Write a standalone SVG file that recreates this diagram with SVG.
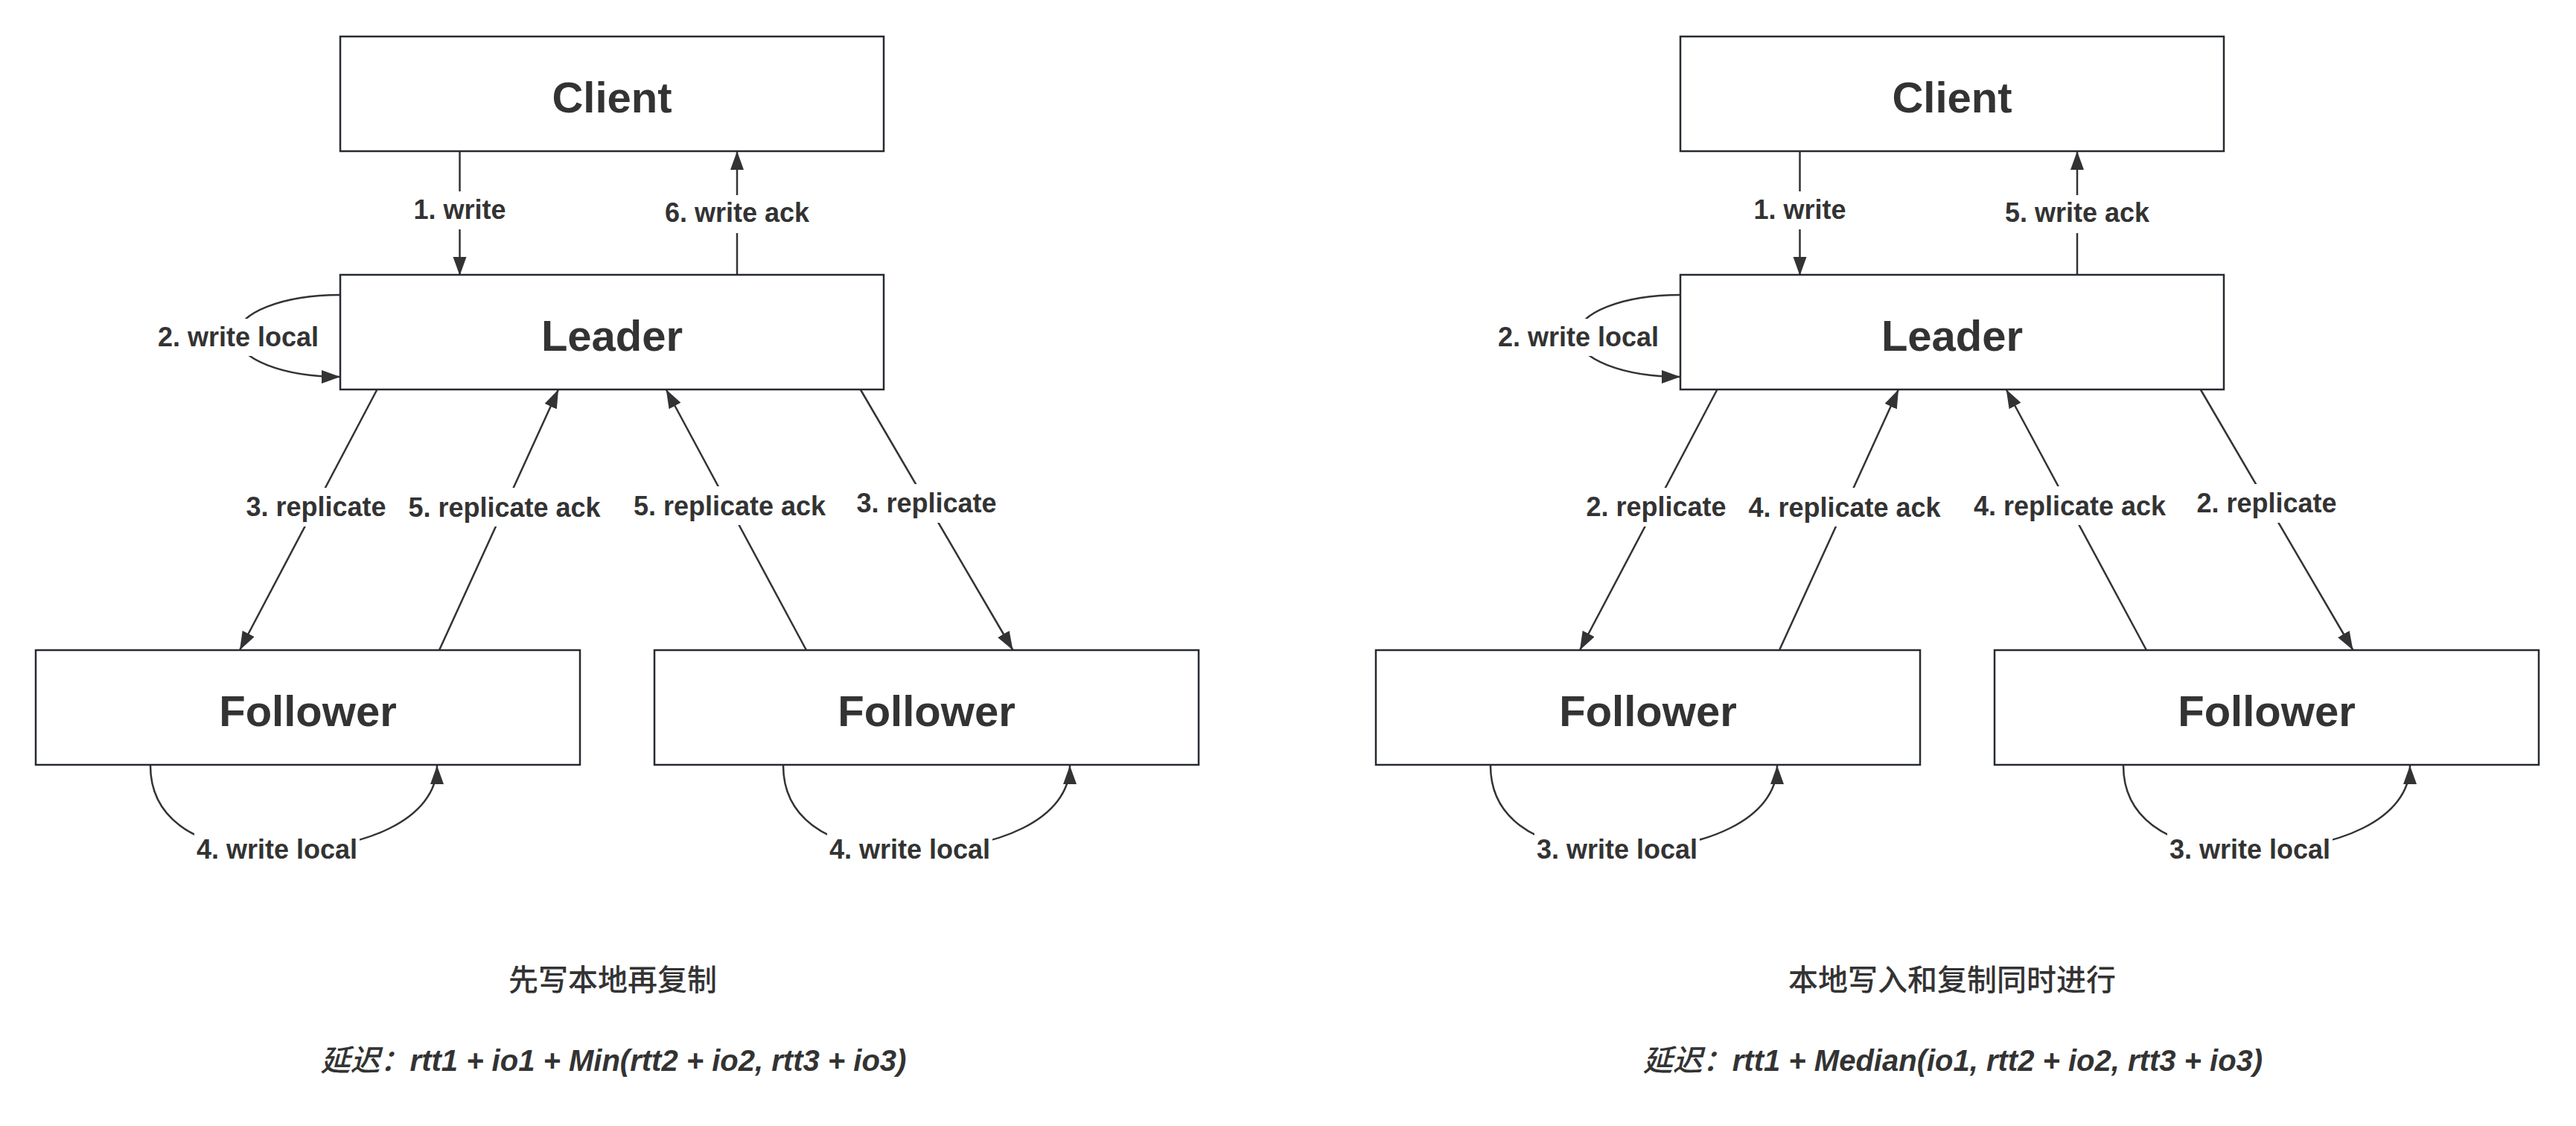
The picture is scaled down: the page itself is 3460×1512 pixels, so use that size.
<svg xmlns="http://www.w3.org/2000/svg" width="3460" height="1512" viewBox="0 0 3460 1512">
<defs>
<style>
.box{fill:#ffffff;stroke:#262b31;stroke-width:2.5}
.nt{font-family:"Liberation Sans",Arial,sans-serif;font-weight:bold;font-size:58px;fill:#333333;text-anchor:middle}
.ln{fill:none;stroke:#333333;stroke-width:2.5}
.lb{font-family:"Liberation Sans",Arial,sans-serif;font-weight:bold;font-size:36px;fill:#333333;text-anchor:middle}
.bg{fill:#ffffff}
.title{font-family:"Noto Sans CJK SC",sans-serif;font-size:40px;font-weight:500;fill:#333333;text-anchor:middle}
.formula{font-family:"Liberation Sans","Noto Sans CJK SC",sans-serif;font-size:40px;font-weight:bold;font-style:italic;fill:#333333;text-anchor:middle}
.cjk{font-family:"Noto Sans CJK SC",sans-serif;font-weight:500}
</style>
<marker id="ah" markerUnits="userSpaceOnUse" markerWidth="26" markerHeight="20" refX="25" refY="9" orient="auto">
<path d="M0,0 L25,9 L0,18 z" fill="#333333"/>
</marker>
</defs>
<rect width="3460" height="1512" fill="#ffffff"/>

<g id="connectors">
<g id="e-l-write"><path class="ln" d="M617.5,203 L617.5,370" marker-end="url(#ah)"/><rect class="bg" x="552" y="257" width="131" height="51"/><text class="lb" x="617.5" y="294">1. write</text></g>
<g id="e-l-writeack"><path class="ln" d="M990,370 L990,203" marker-end="url(#ah)"/><rect class="bg" x="890" y="262" width="200" height="51"/><text class="lb" x="990" y="298">6. write ack</text></g>
<g id="e-l-leaderlocal"><path class="ln" d="M457,396 C380,396 318,420 318,451 C318,482 380,506 457,506" marker-end="url(#ah)"/><rect class="bg" x="209" y="428" width="222" height="50"/><text class="lb" x="320" y="465">2. write local</text></g>
<g id="e-l-rep1"><path class="ln" d="M506.5,523 L322,873" marker-end="url(#ah)"/><rect class="bg" x="328" y="655" width="194" height="52"/><text class="lb" x="424.5" y="693">3. replicate</text></g>
<g id="e-l-ack1"><path class="ln" d="M590,873 L750,523" marker-end="url(#ah)"/><rect class="bg" x="545" y="655" width="265" height="52"/><text class="lb" x="677.5" y="694">5. replicate ack</text></g>
<g id="e-l-ack2"><path class="ln" d="M1083,873 L894.7,523" marker-end="url(#ah)"/><rect class="bg" x="847" y="653" width="265" height="52"/><text class="lb" x="980" y="692">5. replicate ack</text></g>
<g id="e-l-rep2"><path class="ln" d="M1155.7,523 L1360.5,873" marker-end="url(#ah)"/><rect class="bg" x="1147" y="650" width="195" height="52"/><text class="lb" x="1244.5" y="688">3. replicate</text></g>
<g id="e-l-f1local"><path class="ln" d="M202,1028 C202,1090 250,1142 372,1142 C490,1142 587,1100 587,1028" marker-end="url(#ah)"/><rect class="bg" x="261" y="1117" width="222" height="50"/><text class="lb" x="372" y="1153">4. write local</text></g>
<g id="e-l-f2local"><path class="ln" d="M1052,1028 C1052,1090 1100,1142 1222,1142 C1340,1142 1437,1100 1437,1028" marker-end="url(#ah)"/><rect class="bg" x="1111" y="1117" width="222" height="50"/><text class="lb" x="1222" y="1153">4. write local</text></g>

<g id="e-r-write"><path class="ln" d="M2417.5,203 L2417.5,370" marker-end="url(#ah)"/><rect class="bg" x="2352" y="257" width="131" height="51"/><text class="lb" x="2417.5" y="294">1. write</text></g>
<g id="e-r-writeack"><path class="ln" d="M2790,370 L2790,203" marker-end="url(#ah)"/><rect class="bg" x="2690" y="262" width="200" height="51"/><text class="lb" x="2790" y="298">5. write ack</text></g>
<g id="e-r-leaderlocal"><path class="ln" d="M2257,396 C2180,396 2118,420 2118,451 C2118,482 2180,506 2257,506" marker-end="url(#ah)"/><rect class="bg" x="2009" y="428" width="222" height="50"/><text class="lb" x="2120" y="465">2. write local</text></g>
<g id="e-r-rep1"><path class="ln" d="M2306.5,523 L2122,873" marker-end="url(#ah)"/><rect class="bg" x="2128" y="655" width="194" height="52"/><text class="lb" x="2224.5" y="693">2. replicate</text></g>
<g id="e-r-ack1"><path class="ln" d="M2390,873 L2550,523" marker-end="url(#ah)"/><rect class="bg" x="2345" y="655" width="265" height="52"/><text class="lb" x="2477.5" y="694">4. replicate ack</text></g>
<g id="e-r-ack2"><path class="ln" d="M2883,873 L2694.7,523" marker-end="url(#ah)"/><rect class="bg" x="2647" y="653" width="265" height="52"/><text class="lb" x="2780" y="692">4. replicate ack</text></g>
<g id="e-r-rep2"><path class="ln" d="M2955.7,523 L3160.5,873" marker-end="url(#ah)"/><rect class="bg" x="2947" y="650" width="195" height="52"/><text class="lb" x="3044.5" y="688">2. replicate</text></g>
<g id="e-r-f1local"><path class="ln" d="M2002,1028 C2002,1090 2050,1142 2172,1142 C2290,1142 2387,1100 2387,1028" marker-end="url(#ah)"/><rect class="bg" x="2061" y="1117" width="222" height="50"/><text class="lb" x="2172" y="1153">3. write local</text></g>
<g id="e-r-f2local"><path class="ln" d="M2852,1028 C2852,1090 2900,1142 3022,1142 C3140,1142 3237,1100 3237,1028" marker-end="url(#ah)"/><rect class="bg" x="2911" y="1117" width="222" height="50"/><text class="lb" x="3022" y="1153">3. write local</text></g>
</g>

<g id="l-client"><rect class="box" x="457" y="49" width="730" height="154"/><text class="nt" x="822" y="151">Client</text></g>
<g id="l-leader"><rect class="box" x="457" y="369" width="730" height="154"/><text class="nt" x="822" y="471">Leader</text></g>
<g id="l-follower1"><rect class="box" x="48" y="873" width="731" height="154"/><text class="nt" x="413.5" y="975">Follower</text></g>
<g id="l-follower2"><rect class="box" x="879" y="873" width="731" height="154"/><text class="nt" x="1244.5" y="975">Follower</text></g>

<g id="r-client"><rect class="box" x="2257" y="49" width="730" height="154"/><text class="nt" x="2622" y="151">Client</text></g>
<g id="r-leader"><rect class="box" x="2257" y="369" width="730" height="154"/><text class="nt" x="2622" y="471">Leader</text></g>
<g id="r-follower1"><rect class="box" x="1848" y="873" width="731" height="154"/><text class="nt" x="2213.5" y="975">Follower</text></g>
<g id="r-follower2"><rect class="box" x="2679" y="873" width="731" height="154"/><text class="nt" x="3044.5" y="975">Follower</text></g>

<g id="caption-left">
<text class="title" x="823" y="1330">先写本地再复制</text>
<text class="formula" x="824" y="1438"><tspan class="cjk">延迟：</tspan>rtt1 + io1 + Min(rtt2 + io2, rtt3 + io3)</text>
</g>
<g id="caption-right">
<text class="title" x="2622" y="1330">本地写入和复制同时进行</text>
<text class="formula" x="2623" y="1438"><tspan class="cjk">延迟：</tspan>rtt1 + Median(io1, rtt2 + io2, rtt3 + io3)</text>
</g>
</svg>
